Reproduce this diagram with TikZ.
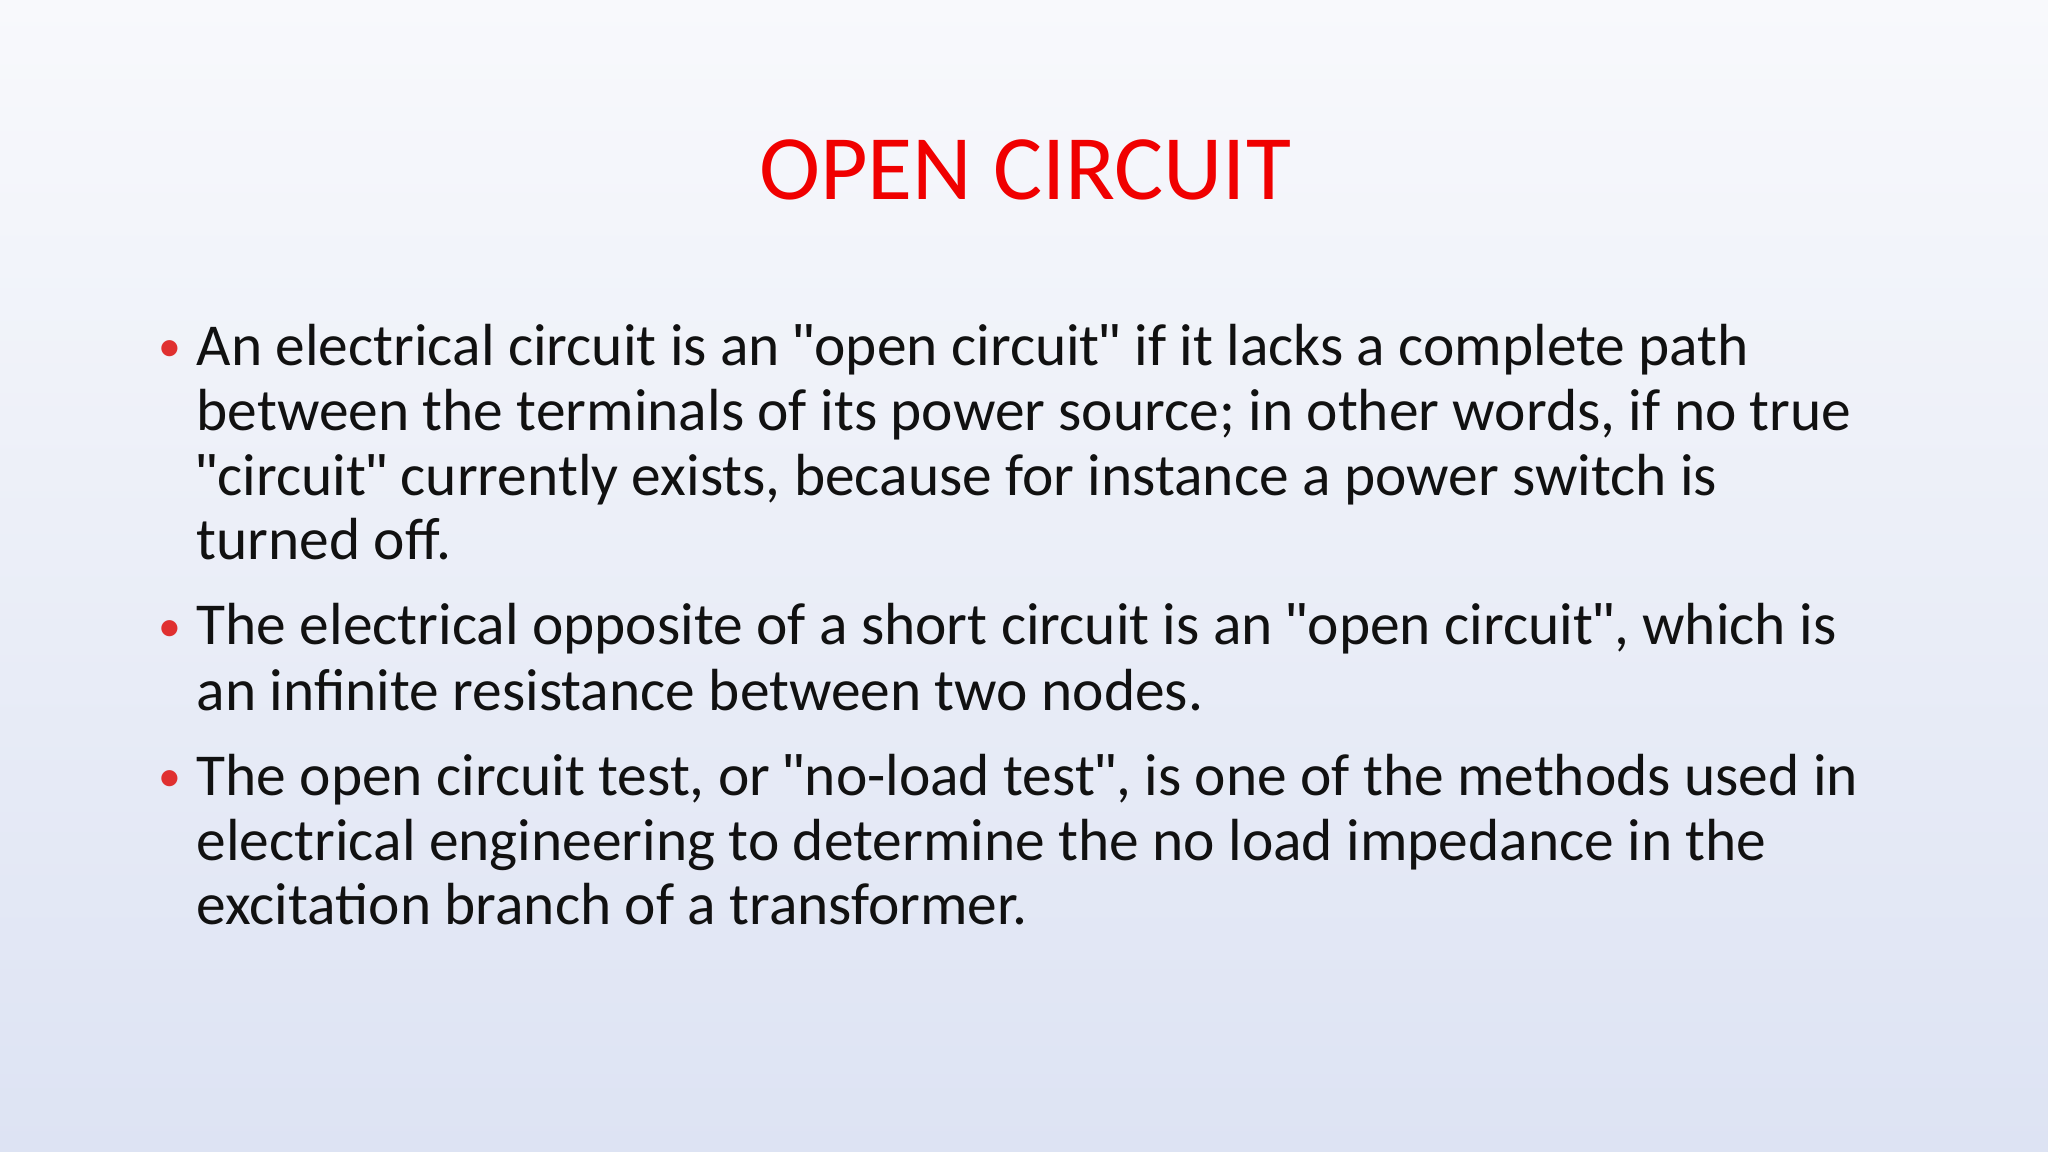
\documentclass[tikz,border=0pt]{standalone}
\usepackage{fontspec}
\setmainfont{Carlito}
\newfontfamily\qfont{Liberation Sans}
\newcommand{\q}{{\qfont\symbol{34}}}
\definecolor{bgtop}{HTML}{F8F9FC}
\definecolor{bgbot}{HTML}{DDE3F3}
\definecolor{titlered}{HTML}{F00000}
\definecolor{bulletred}{HTML}{E03030}
\definecolor{txt}{HTML}{111111}
\begin{document}
\begin{tikzpicture}[x=0.01cm,y=-0.01cm,
  line/.style={anchor=base west,inner sep=0pt,font=\fontsize{16.9pt}{20pt}\selectfont,text=txt},
  bul/.style={anchor=base west,inner sep=0pt,font=\fontsize{13pt}{20pt}\selectfont,text=bulletred}]
\shade[top color=bgtop,bottom color=bgbot] (0,0) rectangle (2048,1152);
\useasboundingbox (0,0) rectangle (2048,1152);
\node[inner sep=0pt,font=\fontsize{26.2pt}{32pt}\selectfont,text=titlered,anchor=base] (title) at (1025,200) {OPEN CIRCUIT};
% bullet 1
\node[bul] (b1) at (158,362) {•};
\node[line] (l11) at (196,366) {An electrical circuit is an \q open circuit\q\ if it lacks a complete path};
\node[line] (l12) at (196,431) {between the terminals of its power source; in other words, if no true};
\node[line] (l13) at (196,495) {\q circuit\q\ currently exists, because for instance a power switch is};
\node[line] (l14) at (196,560) {turned off.};
% bullet 2
\node[bul] (b2) at (158,641) {•};
\node[line] (l21) at (196,645) {The electrical opposite of a short circuit is an \q open circuit\q, which is};
\node[line] (l22) at (196,710) {an infinite resistance between two nodes.};
% bullet 3
\node[bul] (b3) at (158,791) {•};
\node[line] (l31) at (196,795) {The open circuit test, or \q no-load test\q, is one of the methods used in};
\node[line] (l32) at (196,860) {electrical engineering to determine the no load impedance in the};
\node[line] (l33) at (196,924) {excitation branch of a transformer.};
\end{tikzpicture}
\end{document}
